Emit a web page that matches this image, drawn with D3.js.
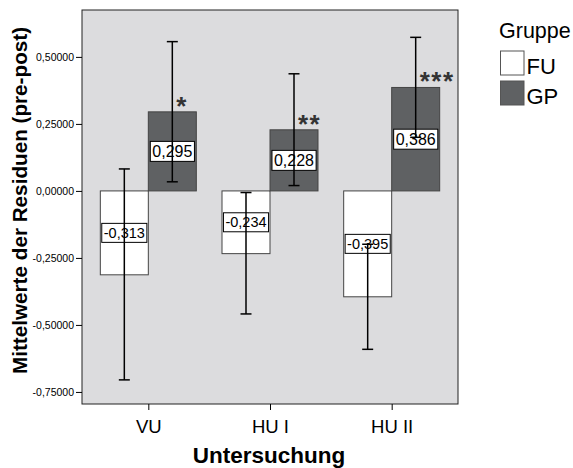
<!DOCTYPE html>
<html><head><meta charset="utf-8">
<script src="https://cdn.jsdelivr.net/npm/d3@7"></script>
<style>body{margin:0;background:#fff;} text{font-family:"Liberation Sans",Arial,sans-serif;}</style>
</head><body>
<svg id="c" width="573" height="468"></svg>
<script>
const categories = ["VU", "HU I", "HU II"];
const groups = ["FU", "GP"];
const fuValues = [-0.313, -0.234, -0.395];
const gpValues = [0.295, 0.228, 0.386];
const fuLow = [-0.705, -0.459, -0.591];
const fuHigh = [0.082, -0.006, -0.199];
const gpLow = [0.034, 0.020, 0.200];
const gpHigh = [0.557, 0.437, 0.573];
const gpStars = ["*", "**", "***"];
const yTicks = [-0.75, -0.5, -0.25, 0, 0.25, 0.5];

const svg = d3.select("#c");
const L = 82, R = 458, T = 10, B = 404;
const colors = {FU: "#ffffff", GP: "#5f6163"};
const fmt = (v, p) => d3.format("." + p + "f")(v).replace("\u2212", "-").replace(".", ",");

const x = d3.scalePoint().domain(categories).range([L, R]).padding(0.545);
const y = d3.scaleLinear().domain([-0.795, 0.675]).range([B, T]);
const barW = 48;

svg.append("rect").attr("x", L).attr("y", T).attr("width", R - L).attr("height", B - T)
  .attr("fill", "#dcdcde").attr("stroke", "#222").attr("stroke-width", 1);

// y axis
const yAxis = d3.axisLeft(y).tickValues(yTicks).tickSize(6).tickPadding(2)
  .tickFormat(d => fmt(d, 5).replace("-0,00000", "0,00000"));
const gy = svg.append("g").attr("transform", `translate(${L},0)`).call(yAxis);
gy.select(".domain").remove();
gy.selectAll("text").attr("font-size", 10.5).attr("fill", "#000").style("font-family", '"Liberation Sans",Arial,sans-serif');
gy.selectAll("line").attr("stroke", "#000");

// x axis
const xAxis = d3.axisBottom(x).tickSize(6).tickPadding(0);
const gx = svg.append("g").attr("transform", `translate(0,${B})`).call(xAxis);
gx.select(".domain").remove();
gx.selectAll("text").attr("font-size", 18.5).attr("fill", "#000").attr("dy", null).attr("y", 29).style("font-family", '"Liberation Sans",Arial,sans-serif');
gx.selectAll("line").attr("stroke", "#000");

const data = [];
categories.forEach((c, i) => {
  data.push({c, g: "FU", v: fuValues[i], lo: fuLow[i], hi: fuHigh[i], star: "", fs: 14.5});
  data.push({c, g: "GP", v: gpValues[i], lo: gpLow[i], hi: gpHigh[i], star: gpStars[i], fs: 16});
});
const bx = d => x(d.c) + (d.g === "FU" ? -barW : 0);
const cx = d => bx(d) + barW / 2;

svg.append("g").selectAll("rect").data(data).join("rect")
  .attr("x", bx).attr("width", barW)
  .attr("y", d => y(Math.max(0, d.v))).attr("height", d => Math.abs(y(d.v) - y(0)))
  .attr("fill", d => colors[d.g]).attr("stroke", "#444").attr("stroke-width", 1);

// value labels
const lab = svg.append("g").selectAll("g").data(data).join("g");
lab.each(function(d) {
  const g = d3.select(this);
  const my = (y(d.v) + y(0)) / 2;
  const t = g.append("text").attr("x", cx(d)).attr("y", my).attr("text-anchor", "middle")
    .attr("dominant-baseline", "central").attr("font-size", d.fs).attr("fill", "#000")
    .text(fmt(d.v, 3));
  const bb = t.node().getBBox();
  g.insert("rect", "text").attr("x", bb.x - 2).attr("y", my - bb.height / 2 - 1.5)
    .attr("width", bb.width + 4).attr("height", bb.height + 3)
    .attr("fill", "#fff").attr("stroke", "#000").attr("stroke-width", 1);
});

// error bars
const eb = svg.append("g").attr("stroke", "#000").attr("stroke-width", 1.5);
data.forEach(d => {
  const c = cx(d);
  eb.append("line").attr("x1", c).attr("x2", c).attr("y1", y(d.hi)).attr("y2", y(d.lo));
  eb.append("line").attr("x1", c - 5.5).attr("x2", c + 5.5).attr("y1", y(d.hi)).attr("y2", y(d.hi));
  eb.append("line").attr("x1", c - 5.5).attr("x2", c + 5.5).attr("y1", y(d.lo)).attr("y2", y(d.lo));
});

// stars
svg.append("g").selectAll("text").data(data.filter(d => d.star)).join("text")
  .attr("x", d => cx(d) + 4).attr("y", d => y(d.v) + 3)
  .attr("font-size", 26).attr("font-weight", "bold").attr("fill", "#333")
  .attr("letter-spacing", 1.5).text(d => d.star);

// axis titles
svg.append("text").attr("x", (L + R) / 2 - 1).attr("y", 463).attr("text-anchor", "middle")
  .attr("font-size", 22.5).attr("font-weight", "bold").text("Untersuchung");
svg.append("text").attr("transform", `translate(27,200.5) rotate(-90)`)
  .attr("text-anchor", "middle").attr("font-size", 20.7).attr("font-weight", "bold")
  .text("Mittelwerte der Residuen (pre-post)");

// legend
const lg = svg.append("g");
lg.append("text").attr("x", 499).attr("y", 38).attr("font-size", 21.5).text("Gruppe");
groups.forEach((g, i) => {
  lg.append("rect").attr("x", 500.5).attr("y", 51 + i * 30).attr("width", 23.5).attr("height", 24)
    .attr("fill", colors[g]).attr("stroke", "#555").attr("stroke-width", 1);
  lg.append("text").attr("x", 526.5).attr("y", 74 + i * 30).attr("font-size", 22).text(g);
});
</script>
</body></html>
